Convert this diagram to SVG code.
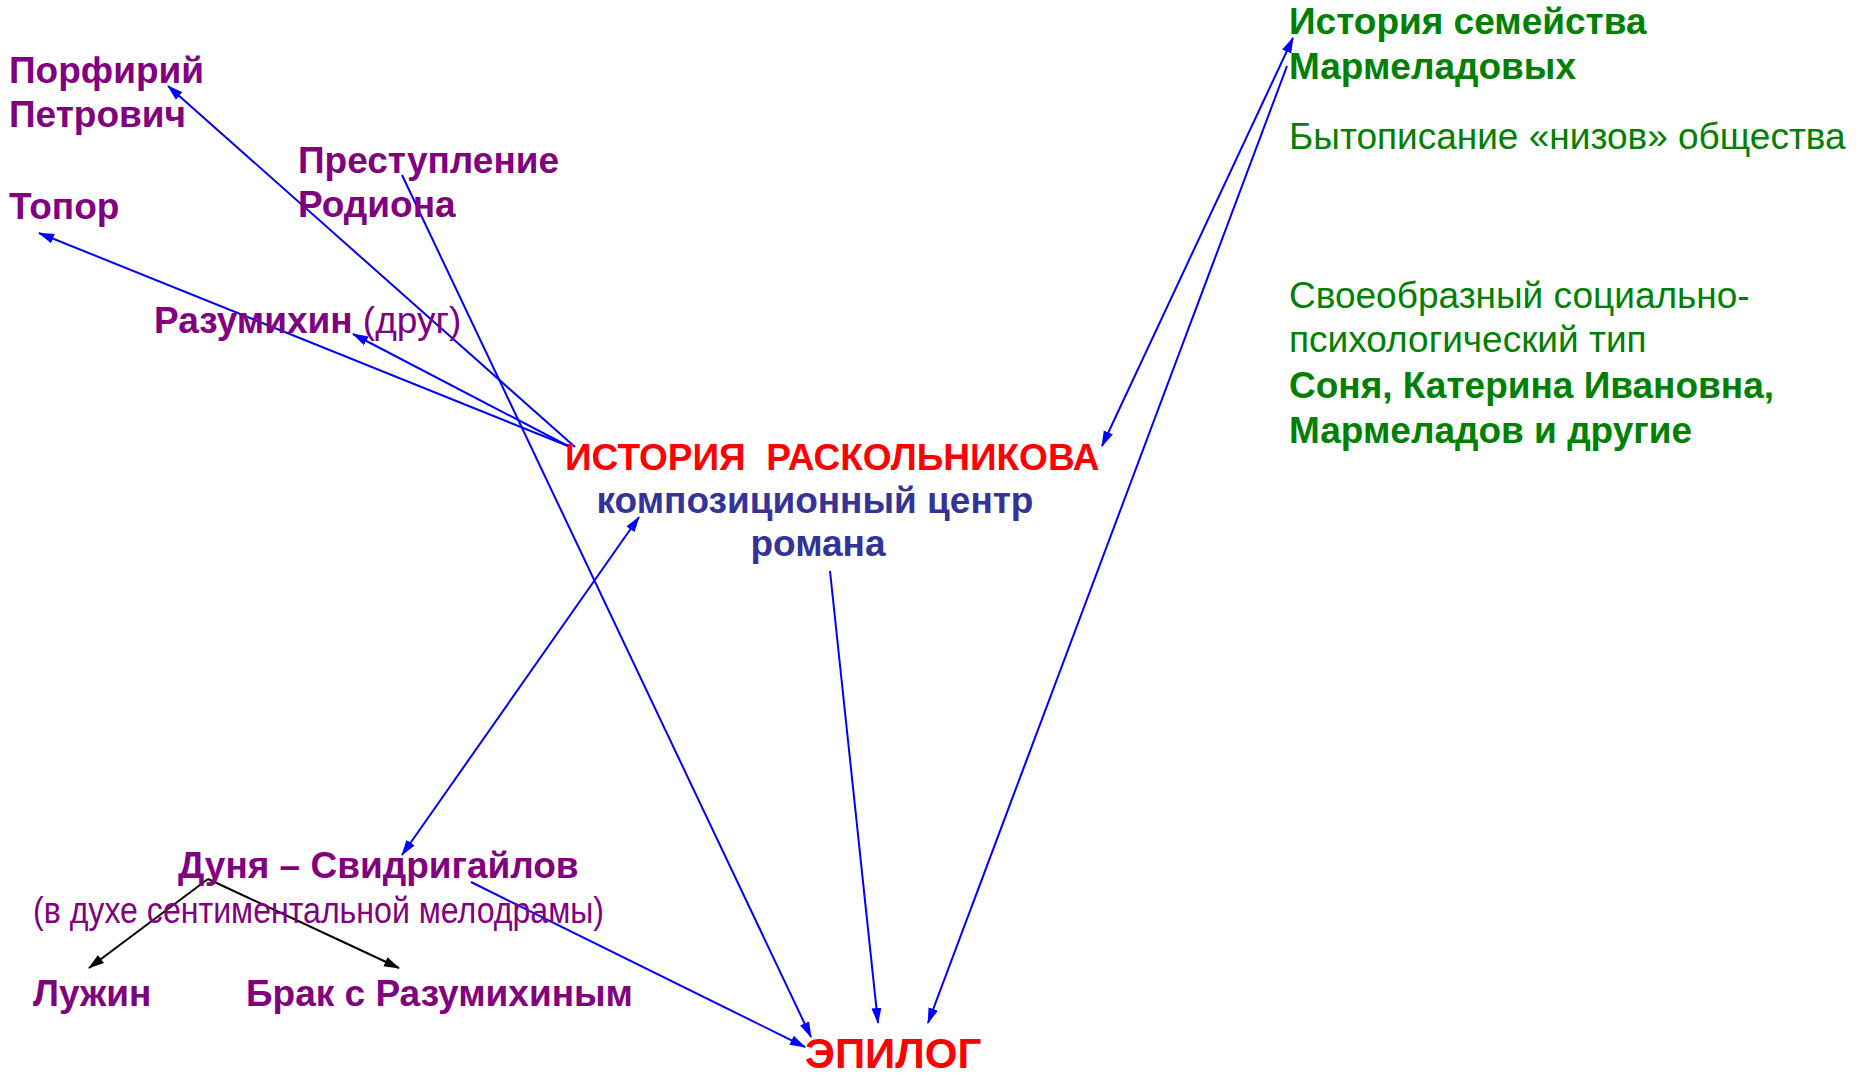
<svg xmlns="http://www.w3.org/2000/svg" width="1856" height="1073" viewBox="0 0 1856 1073">
<style>
text{font-family:"Liberation Sans",Arial,sans-serif;font-size:37px}
.p{fill:#800080;font-weight:bold}
.pn{font-weight:normal}
.r{fill:#FF0000;font-weight:bold}
.b{fill:#333399;font-weight:bold}
.g{fill:#008000}
.gb{fill:#008000;font-weight:bold}
.c{stroke:#0000FF;stroke-width:2;fill:none}
.k{stroke:#000000;stroke-width:2;fill:none}
</style>
<defs>
<marker id="ab" markerUnits="userSpaceOnUse" markerWidth="16" markerHeight="12" refX="15" refY="5" orient="auto-start-reverse" viewBox="0 0 16 10"><path d="M0,0 L16,5 L0,10 z" fill="#0000FF"/></marker>
<marker id="ak" markerUnits="userSpaceOnUse" markerWidth="16" markerHeight="12" refX="15" refY="5" orient="auto-start-reverse" viewBox="0 0 16 10"><path d="M0,0 L16,5 L0,10 z" fill="#000000"/></marker>
</defs>
<rect width="1856" height="1073" fill="#FFFFFF"/>
<g id="connectors">
<line class="c" x1="575" y1="447" x2="168" y2="86" marker-end="url(#ab)"/>
<line class="c" x1="568" y1="446" x2="39" y2="233" marker-end="url(#ab)"/>
<line class="c" x1="568" y1="446" x2="353" y2="334" marker-end="url(#ab)"/>
<line class="c" x1="402" y1="175" x2="811" y2="1037" marker-end="url(#ab)"/>
<line class="c" x1="1102" y1="446" x2="1293" y2="38" marker-start="url(#ab)" marker-end="url(#ab)"/>
<line class="c" x1="1287" y1="66" x2="928" y2="1023" marker-end="url(#ab)"/>
<line class="c" x1="830" y1="571" x2="878" y2="1023" marker-end="url(#ab)"/>
<line class="c" x1="402" y1="855" x2="639" y2="517" marker-start="url(#ab)" marker-end="url(#ab)"/>
<line class="c" x1="471" y1="882" x2="805" y2="1047" marker-end="url(#ab)"/>
<line class="k" x1="208" y1="879" x2="89" y2="968" marker-end="url(#ak)"/>
<line class="k" x1="208" y1="879" x2="399" y2="968" marker-end="url(#ak)"/>
</g>
<g id="porfiry"><text class="p" x="9" y="83">Порфирий</text><text class="p" x="9" y="127">Петрович</text></g>
<g id="prestuplenie"><text class="p" x="298" y="173">Преступление</text><text class="p" x="298" y="217">Родиона</text></g>
<g id="topor"><text class="p" x="9" y="219">Топор</text></g>
<g id="razumikhin"><text class="p" x="154" y="333">Разумихин<tspan class="pn"> (друг)</tspan></text></g>
<g id="raskolnikov"><text class="r" x="565" y="470" xml:space="preserve">ИСТОРИЯ  РАСКОЛЬНИКОВА</text><text class="b" x="815" y="513" text-anchor="middle">композиционный центр</text><text class="b" x="818" y="556" text-anchor="middle">романа</text></g>
<g id="marmeladovy"><text class="gb" x="1289" y="34">История семейства</text><text class="gb" x="1289" y="79">Мармеладовых</text><text class="g" x="1289" y="149">Бытописание «низов» общества</text></g>
<g id="tip"><text class="g" x="1289" y="308">Своеобразный социально-</text><text class="g" x="1289" y="352">психологический тип</text><text class="gb" x="1289" y="398">Соня, Катерина Ивановна,</text><text class="gb" x="1289" y="443">Мармеладов и другие</text></g>
<g id="dunya"><text class="p" x="178" y="878">Дуня – Свидригайлов</text><text class="p pn" x="33" y="923" textLength="571" lengthAdjust="spacingAndGlyphs">(в духе сентиментальной мелодрамы)</text></g>
<g id="luzhin"><text class="p" x="33" y="1006">Лужин</text></g>
<g id="brak"><text class="p" x="246" y="1006">Брак с Разумихиным</text></g>
<g id="epilog"><text class="r" x="805" y="1068" style="font-size:42px">ЭПИЛОГ</text></g>
</svg>
